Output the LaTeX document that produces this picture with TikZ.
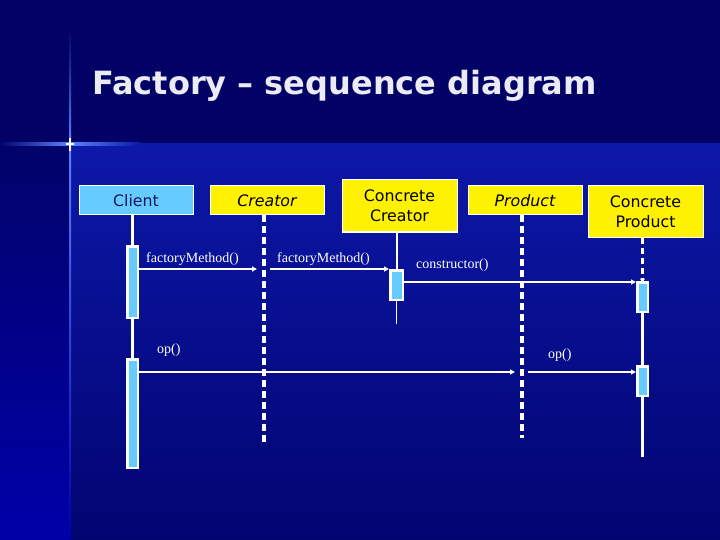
\documentclass[tikz,border=0pt]{standalone}
\usepackage{fontspec}
\setmainfont{DejaVu Sans}
\newfontfamily\labelserif{Liberation Serif}
\usetikzlibrary{arrows.meta}
\definecolor{bgtop}{RGB}{2,2,102}
\definecolor{panelTop}{RGB}{12,24,168}
\definecolor{panelBot}{RGB}{2,4,112}
\definecolor{stripTop}{RGB}{2,2,106}
\definecolor{stripBot}{RGB}{0,0,168}
\definecolor{glow}{RGB}{90,130,255}
\definecolor{lblue}{RGB}{102,204,255}
\definecolor{navytext}{RGB}{20,20,100}
\definecolor{titlecol}{RGB}{235,235,245}
\begin{document}
\begin{tikzpicture}[x=1pt,y=-1pt,
  objbox/.style={draw=white, line width=1pt, inner sep=0pt, align=center,
    font=\fontsize{15.8}{20}\selectfont},
  yellowbox/.style={objbox, fill=yellow, text=black},
  clientbox/.style={objbox, fill=lblue, text=navytext},
  act/.style={draw=white, line width=2.5pt, fill=lblue, inner sep=0pt, minimum width=10.5pt},
  msg/.style={draw=white, line width=1.6pt, -{Triangle[length=5pt,width=5pt]}},
  msglabel/.style={text=white, anchor=base west, inner sep=0pt, font=\labelserif\fontsize{14}{16}\selectfont},
  lifesolid/.style={draw=white, line width=3pt},
  lifedash/.style={draw=white, line width=4pt, dash pattern=on 7pt off 4pt},
]
\useasboundingbox (0,0) rectangle (720,540);
% background
\fill[bgtop] (0,0) rectangle (720,540);
\shade[top color=panelTop, bottom color=panelBot] (70,144) rectangle (720,540);
\shade[top color=stripTop, bottom color=stripBot] (0,144) rectangle (70,540);
% glow cross
\shade[top color=bgtop, bottom color=glow] (69,30) rectangle (71,144);
\shade[top color=glow, bottom color=stripBot] (69,144) rectangle (71,540);
\shade[left color=stripTop, right color=glow] (0,143) rectangle (70,145.5);
\shade[left color=glow, right color=panelTop] (70,143) rectangle (140,145.5);
\fill[white] (66,143.5) rectangle (74,144.8);
\fill[white] (69.4,138) rectangle (70.6,151);

% title
\node[anchor=base west, inner sep=0pt, text=titlecol,
  font=\bfseries\fontsize{32}{36}\selectfont] (title) at (92,95) {Factory -- sequence diagram};

% object boxes
\node[clientbox, minimum width=114pt, minimum height=29pt] (client) at (136,200.5) {Client};
\node[yellowbox, minimum width=114pt, minimum height=29pt] (creator) at (267,200.5) {\itshape Creator};
\node[yellowbox, minimum width=115pt, minimum height=52pt] (cc) at (399.5,206) {Concrete\\Creator};
\node[yellowbox, minimum width=114pt, minimum height=29pt] (product) at (525,200.5) {\itshape Product};
\node[yellowbox, minimum width=115pt, minimum height=51pt] (cp) at (645.5,211.5) {Concrete\\Product};

% activation boxes
\node[act, minimum height=71.5pt] (a1) at (132.5,282) {};
\node[act, minimum height=108.5pt] (a2) at (132.5,413.5) {};
\node[act, minimum width=12.5pt, minimum height=29.5pt] (ccA) at (396.5,285) {};
\node[act, minimum height=29.5pt] (cpA1) at (642.5,297) {};
\node[act, minimum height=29.5pt] (cpA2) at (642.5,381) {};

% lifeline end points
\coordinate (crTop) at (264,215);
\coordinate (crEnd) at (264,443);
\coordinate (prTop) at (522,215);
\coordinate (prEnd) at (522,438);
\coordinate (ccEnd) at (396.5,324);
\coordinate (cpEnd) at (642.5,457);

% lifelines
\draw[lifesolid] (a1.north |- client.south) -- (a1.north);
\draw[lifesolid] (a1.south) -- (a2.north);
\draw[lifedash] (crTop) -- (crEnd);
\draw[white, line width=2pt] (ccA.north |- cc.south) -- (ccA.north);
\draw[white, line width=1pt] (ccA.south) -- (ccEnd);
\draw[lifedash] (prTop) -- (prEnd);
\draw[white, line width=2.5pt, dash pattern=on 6pt off 4pt, -{Triangle[length=4pt,width=5pt]}]
  (cpA1.north |- cp.south) -- ([yshift=-1.5pt]cpA1.north);
\draw[lifesolid] (cpA1.south) -- (cpA2.north);
\draw[lifesolid] (cpA2.south) -- (cpEnd);

% messages
\coordinate (m1s) at (a1.east |- 0,269);
\coordinate (m1e) at (257,269);
\coordinate (m2s) at (270,269);
\coordinate (m3s) at (ccA.east |- 0,282);
\coordinate (m4s) at (a2.east |- 0,372);
\coordinate (m4e) at (515,372);
\coordinate (m5s) at (528,372);
\draw[msg] (m1s) -- (m1e);
\draw[msg] (m2s) -- (ccA.north west);
\draw[msg] (m3s) -- (cpA1.west |- m3s);
\draw[msg] (m4s) -- (m4e);
\draw[msg] (m5s) -- (cpA2.west |- m5s);

% message labels
\node[msglabel] (l1) at (146,262) {factoryMethod()};
\node[msglabel] (l2) at (277,262) {factoryMethod()};
\node[msglabel] (l3) at (416,268) {constructor()};
\node[msglabel] (l4) at (157,353) {op()};
\node[msglabel] (l5) at (548,358) {op()};
\end{tikzpicture}
\end{document}
